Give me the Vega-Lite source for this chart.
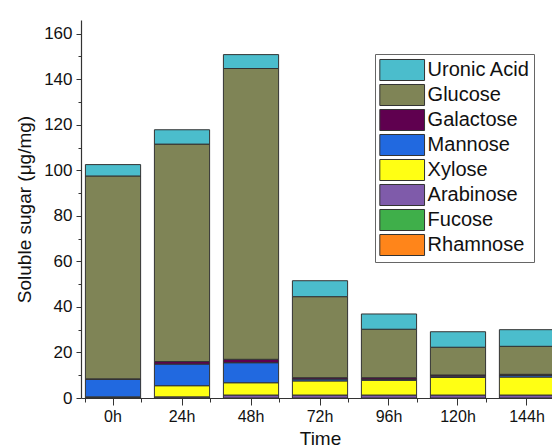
{
  "$schema": "https://vega.github.io/schema/vega-lite/v6.json",
  "autosize": {"type": "none"},
  "padding": {"left": 81, "top": 20, "right": 0, "bottom": 50},
  "width": 478,
  "height": 378,
  "background": "white",
  "config": {
    "view": {"stroke": null},
    "font": "Liberation Sans"
  },
  "data": {
    "values": [
      {"time": "0h", "sugar": "Rhamnose", "ord": 1, "value": 0},
      {"time": "0h", "sugar": "Fucose", "ord": 2, "value": 0},
      {"time": "0h", "sugar": "Arabinose", "ord": 3, "value": 0.2},
      {"time": "0h", "sugar": "Xylose", "ord": 4, "value": 0.3},
      {"time": "0h", "sugar": "Mannose", "ord": 5, "value": 7.7},
      {"time": "0h", "sugar": "Galactose", "ord": 6, "value": 0.2},
      {"time": "0h", "sugar": "Glucose", "ord": 7, "value": 89.1},
      {"time": "0h", "sugar": "Uronic Acid", "ord": 8, "value": 5.0},
      {"time": "24h", "sugar": "Rhamnose", "ord": 1, "value": 0},
      {"time": "24h", "sugar": "Fucose", "ord": 2, "value": 0},
      {"time": "24h", "sugar": "Arabinose", "ord": 3, "value": 0.5},
      {"time": "24h", "sugar": "Xylose", "ord": 4, "value": 4.9},
      {"time": "24h", "sugar": "Mannose", "ord": 5, "value": 9.5},
      {"time": "24h", "sugar": "Galactose", "ord": 6, "value": 1.1},
      {"time": "24h", "sugar": "Glucose", "ord": 7, "value": 95.5},
      {"time": "24h", "sugar": "Uronic Acid", "ord": 8, "value": 6.3},
      {"time": "48h", "sugar": "Rhamnose", "ord": 1, "value": 0},
      {"time": "48h", "sugar": "Fucose", "ord": 2, "value": 0},
      {"time": "48h", "sugar": "Arabinose", "ord": 3, "value": 1.3},
      {"time": "48h", "sugar": "Xylose", "ord": 4, "value": 5.4},
      {"time": "48h", "sugar": "Mannose", "ord": 5, "value": 8.8},
      {"time": "48h", "sugar": "Galactose", "ord": 6, "value": 1.5},
      {"time": "48h", "sugar": "Glucose", "ord": 7, "value": 127.7},
      {"time": "48h", "sugar": "Uronic Acid", "ord": 8, "value": 6.1},
      {"time": "72h", "sugar": "Rhamnose", "ord": 1, "value": 0},
      {"time": "72h", "sugar": "Fucose", "ord": 2, "value": 0},
      {"time": "72h", "sugar": "Arabinose", "ord": 3, "value": 1.3},
      {"time": "72h", "sugar": "Xylose", "ord": 4, "value": 6.2},
      {"time": "72h", "sugar": "Mannose", "ord": 5, "value": 0.8},
      {"time": "72h", "sugar": "Galactose", "ord": 6, "value": 0.6},
      {"time": "72h", "sugar": "Glucose", "ord": 7, "value": 35.6},
      {"time": "72h", "sugar": "Uronic Acid", "ord": 8, "value": 7.0},
      {"time": "96h", "sugar": "Rhamnose", "ord": 1, "value": 0},
      {"time": "96h", "sugar": "Fucose", "ord": 2, "value": 0},
      {"time": "96h", "sugar": "Arabinose", "ord": 3, "value": 1.3},
      {"time": "96h", "sugar": "Xylose", "ord": 4, "value": 6.5},
      {"time": "96h", "sugar": "Mannose", "ord": 5, "value": 0.4},
      {"time": "96h", "sugar": "Galactose", "ord": 6, "value": 0.7},
      {"time": "96h", "sugar": "Glucose", "ord": 7, "value": 21.3},
      {"time": "96h", "sugar": "Uronic Acid", "ord": 8, "value": 6.7},
      {"time": "120h", "sugar": "Rhamnose", "ord": 1, "value": 0},
      {"time": "120h", "sugar": "Fucose", "ord": 2, "value": 0},
      {"time": "120h", "sugar": "Arabinose", "ord": 3, "value": 1.3},
      {"time": "120h", "sugar": "Xylose", "ord": 4, "value": 7.7},
      {"time": "120h", "sugar": "Mannose", "ord": 5, "value": 0.6},
      {"time": "120h", "sugar": "Galactose", "ord": 6, "value": 0.5},
      {"time": "120h", "sugar": "Glucose", "ord": 7, "value": 12.2},
      {"time": "120h", "sugar": "Uronic Acid", "ord": 8, "value": 6.8},
      {"time": "144h", "sugar": "Rhamnose", "ord": 1, "value": 0},
      {"time": "144h", "sugar": "Fucose", "ord": 2, "value": 0},
      {"time": "144h", "sugar": "Arabinose", "ord": 3, "value": 1.3},
      {"time": "144h", "sugar": "Xylose", "ord": 4, "value": 7.9},
      {"time": "144h", "sugar": "Mannose", "ord": 5, "value": 0.7},
      {"time": "144h", "sugar": "Galactose", "ord": 6, "value": 0.5},
      {"time": "144h", "sugar": "Glucose", "ord": 7, "value": 12.3},
      {"time": "144h", "sugar": "Uronic Acid", "ord": 8, "value": 7.3}
    ]
  },
  "layer": [
    {
      "mark": {"type": "bar", "stroke": "#333333", "strokeWidth": 1},
      "encoding": {
        "x": {
          "field": "time",
          "type": "nominal",
          "sort": null,
          "scale": {"paddingInner": 0.2, "paddingOuter": 0.064},
          "axis": {
            "orient": "bottom",
            "title": "Time",
            "titleFont": "Liberation Sans",
            "titleFontSize": 19,
            "titleFontWeight": "normal",
            "titleColor": "#111",
            "titlePadding": 5,
            "labelAngle": 0,
            "labelFont": "Liberation Sans",
            "labelFontSize": 16,
            "labelColor": "#111",
            "labelPadding": 3,
            "tickSize": 7,
            "tickColor": "#333",
            "domainColor": "#333",
            "domainWidth": 1.2
          }
        },
        "y": {
          "field": "value",
          "type": "quantitative",
          "stack": "zero",
          "scale": {"domain": [0, 166], "nice": false},
          "axis": {
            "title": "Soluble sugar (μg/mg)",
            "titleFont": "Liberation Sans",
            "titleFontSize": 19,
            "titleFontWeight": "normal",
            "titleColor": "#111",
            "titlePadding": 9,
            "values": [0, 10, 20, 30, 40, 50, 60, 70, 80, 90, 100, 110, 120, 130, 140, 150, 160],
            "labelExpr": "datum.value % 20 === 0 ? datum.label : ''",
            "labelFont": "Liberation Sans",
            "labelFontSize": 17,
            "labelColor": "#111",
            "labelPadding": 4,
            "tickSize": {"condition": {"test": "datum.value % 20 === 0", "value": 5}, "value": 3},
            "tickColor": "#333",
            "domainColor": "#333",
            "domainWidth": 1.2,
            "grid": false
          }
        },
        "color": {
          "field": "sugar",
          "type": "nominal",
          "scale": {
            "domain": ["Uronic Acid", "Glucose", "Galactose", "Mannose", "Xylose", "Arabinose", "Fucose", "Rhamnose"],
            "range": ["#4BBDCC", "#7F8456", "#5F004F", "#2169E0", "#FFFF14", "#7F5BAA", "#3FAF4A", "#FF851A"]
          },
          "legend": {
            "title": null,
            "orient": "none",
            "legendX": 294,
            "legendY": 34,
            "padding": 4,
            "strokeColor": "#666",
            "fillColor": "white",
            "symbolType": "M-1,-0.94H3V0.94H-1Z",
            "symbolSize": 500,
            "symbolStrokeColor": "#333",
            "symbolStrokeWidth": 1,
            "symbolOpacity": 1,
            "rowPadding": -1.9,
            "labelOffset": 24.6,
            "labelFont": "Liberation Sans",
            "labelFontSize": 20,
            "labelColor": "#111",
            "labelLimit": 300
          }
        },
        "order": {"field": "ord", "type": "quantitative", "sort": "ascending"}
      }
    },
    {
      "mark": {"type": "bar", "opacity": 0},
      "encoding": {
        "x": {
          "field": "time",
          "type": "nominal",
          "sort": null,
          "scale": {"paddingInner": 0.2, "paddingOuter": 0.064},
          "axis": {
            "orient": "bottom",
            "title": null,
            "labels": false,
            "domain": false,
            "tickBand": "extent",
            "tickSize": 4,
            "tickColor": "#333"
          }
        }
      }
    }
  ],
  "resolve": {"axis": {"x": "independent"}}
}
